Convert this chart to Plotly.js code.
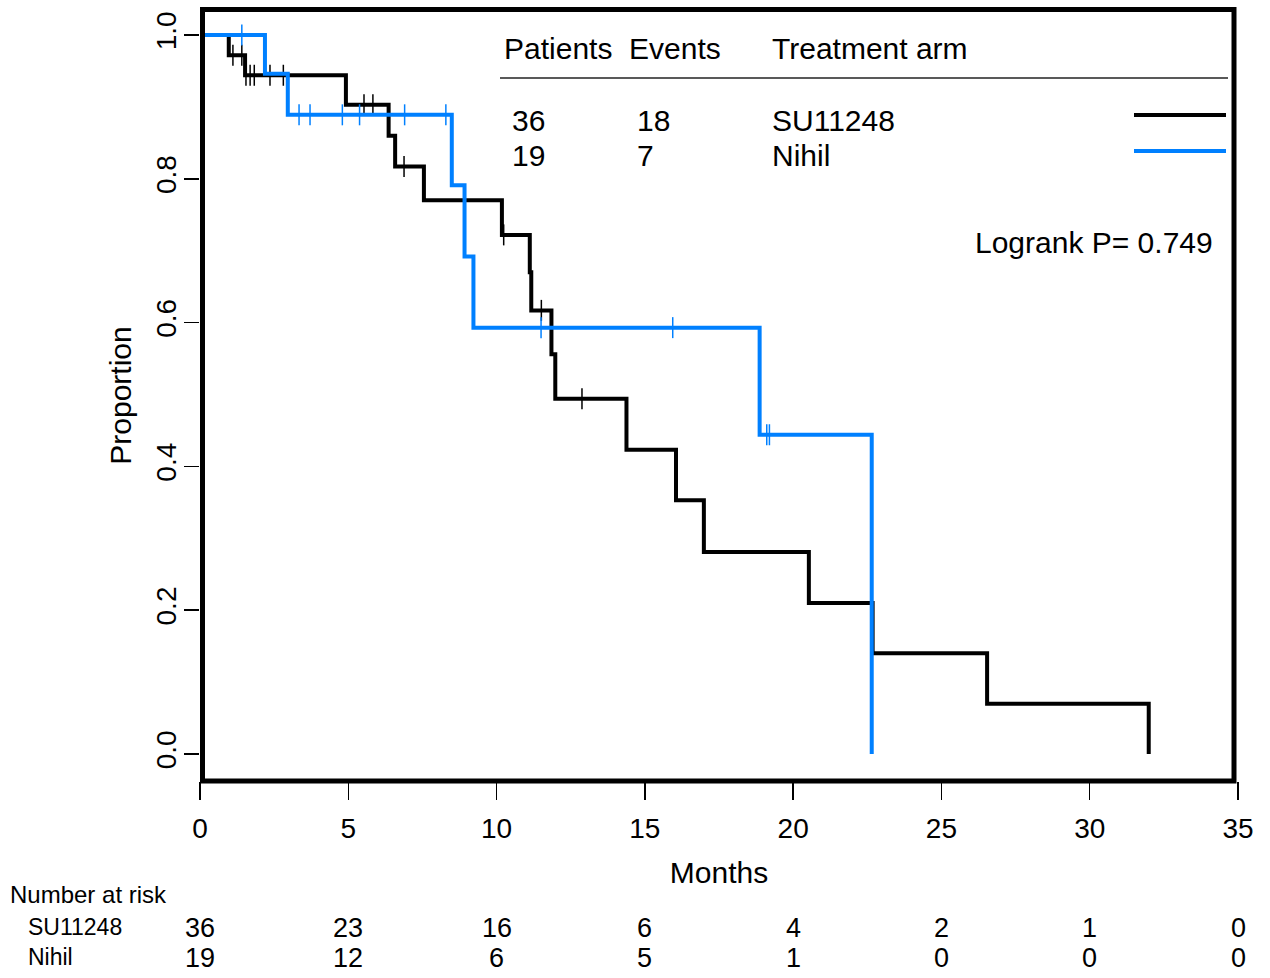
<!DOCTYPE html>
<html><head><meta charset="utf-8">
<script src="https://cdn.plot.ly/plotly-3.0.1.min.js"></script>
<style>html,body{margin:0;padding:0;background:#fff}</style>
</head><body>
<div id="chart" style="width:1270px;height:978px"></div>
<script>
// ---- data ----
const armNames = ['SU11248', 'Nihil'];
const armPatients = [36, 19];
const armEvents = [18, 7];
const armColors = ['#000000', '#0080ff'];
const logrankP = '0.749';

// SU11248 Kaplan-Meier steps (months, proportion)
const suTimes = [0, 0.97, 1.52, 4.92, 6.36, 6.58, 7.55, 10.18, 11.12, 11.17, 11.85, 11.98, 14.38, 16.05, 16.99, 20.53, 22.68, 26.54, 31.99];
const suSurv  = [1.0, 0.972, 0.944, 0.903, 0.860, 0.817, 0.770, 0.722, 0.670, 0.617, 0.556, 0.494, 0.423, 0.353, 0.281, 0.210, 0.140, 0.070, 0.0];
const suCensored = [1.11, 1.41, 1.55, 1.69, 1.83, 2.36, 2.81, 5.53, 5.83, 6.88, 10.24, 11.51, 12.88];

// Nihil Kaplan-Meier steps
const niTimes = [0, 2.19, 2.96, 8.49, 8.92, 9.22, 18.87, 22.65];
const niSurv  = [1.0, 0.946, 0.889, 0.791, 0.692, 0.593, 0.444, 0.0];
const niCensored = [1.41, 3.34, 3.71, 4.80, 5.38, 6.90, 8.29, 11.50, 15.94, 19.11, 19.20];

// number at risk
const riskTimes = [0, 5, 10, 15, 20, 25, 30, 35];
const suAtRisk = [36, 23, 16, 6, 4, 2, 1, 0];
const niAtRisk = [19, 12, 6, 5, 1, 0, 0, 0];

const xTicks = [0, 5, 10, 15, 20, 25, 30, 35];
const yTicks = [0, 0.2, 0.4, 0.6, 0.8, 1.0];
const yTickText = ['0.0', '0.2', '0.4', '0.6', '0.8', '1.0'];

// ---- helpers ----
function stepAt(times, surv, t) {
  let s = surv[0];
  for (let i = 0; i < times.length; i++) { if (times[i] <= t) s = surv[i]; }
  return s;
}
const FONT = 'Liberation Sans, Arial, sans-serif';
// pixel -> paper conversion for layout placement
const L = 200, R = 32, T = 10, B = 197, W = 1270, H = 978;
const pw = W - L - R, ph = H - T - B;
const px = x => (x - L) / pw;
const py = y => (H - B - y) / ph;

const arms = [
  {times: suTimes, surv: suSurv, cens: suCensored},
  {times: niTimes, surv: niSurv, cens: niCensored}
];

const traces = [];
arms.forEach((a, i) => {
  traces.push({
    x: a.times, y: a.surv, type: 'scatter', mode: 'lines',
    line: {shape: 'hv', color: armColors[i], width: 4},
    name: armNames[i], showlegend: false, hoverinfo: 'skip', cliponaxis: false
  });
  traces.push({
    x: a.cens, y: a.cens.map(t => stepAt(a.times, a.surv, t)),
    type: 'scatter', mode: 'markers',
    marker: {symbol: 'line-ns-open', size: 15, color: armColors[i], line: {color: armColors[i], width: 1.5}},
    name: armNames[i] + ' censored', showlegend: false, hoverinfo: 'skip', cliponaxis: false
  });
});

const ann = [];
function txt(text, x, y, opts) {
  ann.push(Object.assign({text: text, x: x, y: y, xref: 'paper', yref: 'paper', showarrow: false,
    xanchor: 'left', yanchor: 'middle', font: {family: FONT, size: 30, color: '#000'}}, opts || {}));
}
// legend table
txt('Patients', px(502), py(48));
txt('Events', px(627), py(48));
txt('Treatment arm', px(770), py(48));
const rowY = [120, 155];
armNames.forEach((n, i) => {
  txt(String(armPatients[i]), px(510), py(rowY[i]));
  txt(String(armEvents[i]), px(635), py(rowY[i]));
  txt(n, px(770), py(rowY[i]));
});
txt('Logrank P= ' + logrankP, px(1215), py(242), {xanchor: 'right'});
// number at risk
txt('Number at risk', px(8), py(895), {font: {family: FONT, size: 24, color: '#000'}});
armNames.forEach((n, i) => {
  txt(n, px(26), py([927, 957][i]), {font: {family: FONT, size: 23, color: '#000'}});
});
[suAtRisk, niAtRisk].forEach((vals, i) => {
  vals.forEach((v, j) => {
    ann.push({text: String(v), x: riskTimes[j], y: py([928, 958][i]), xref: 'x', yref: 'paper',
      showarrow: false, xanchor: 'center', yanchor: 'middle',
      font: {family: FONT, size: 27, color: '#000'}});
  });
});

const shapes = [
  {type: 'rect', xref: 'paper', yref: 'paper', x0: px(202.5), x1: px(1234), y0: py(781), y1: py(9.5),
   line: {color: '#000', width: 5}},
  {type: 'line', xref: 'paper', yref: 'paper', x0: px(500), x1: px(1228), y0: py(78), y1: py(78),
   line: {color: '#222', width: 1.5}},
  {type: 'line', xref: 'paper', yref: 'paper', x0: px(1134), x1: px(1226), y0: py(115), y1: py(115),
   line: {color: armColors[0], width: 4}},
  {type: 'line', xref: 'paper', yref: 'paper', x0: px(1134), x1: px(1226), y0: py(151), y1: py(151),
   line: {color: armColors[1], width: 4}}
];

// y range so that 1.0 sits at pixel 35 and 0.0 at pixel 754
const y1px = 35, y0px = 754;
const unit = (y0px - y1px);
const yTop = (y0px - T) / unit;
const yBot = -((H - B) - y0px) / unit;

const layout = {
  width: W, height: H,
  margin: {l: L, r: R, t: T, b: B, pad: 0},
  paper_bgcolor: '#fff', plot_bgcolor: '#fff',
  font: {family: FONT, color: '#000'},
  xaxis: {
    range: [0, 35], tickvals: xTicks, ticks: 'outside', ticklen: 18, tickwidth: 1.5, tickcolor: '#000',
    showgrid: false, zeroline: false, showline: false, ticklabelstandoff: 4,
    tickfont: {family: FONT, size: 28, color: '#000'},
    title: {text: 'Months', font: {family: FONT, size: 30, color: '#000'}, standoff: 19}
  },
  yaxis: {
    range: [yBot, yTop], tickvals: yTicks, ticktext: yTickText, tickangle: -90,
    ticks: 'outside', ticklen: 15, tickwidth: 1.5, tickcolor: '#000',
    showgrid: false, zeroline: false, showline: false, ticklabelstandoff: -3,
    tickfont: {family: FONT, size: 28, color: '#000'},
    title: {text: 'Proportion', font: {family: FONT, size: 30, color: '#000'}, standoff: 10}
  },
  shapes: shapes,
  annotations: ann,
  showlegend: false
};

Plotly.newPlot('chart', traces, layout, {displayModeBar: false, staticPlot: true});
</script>
</body></html>
